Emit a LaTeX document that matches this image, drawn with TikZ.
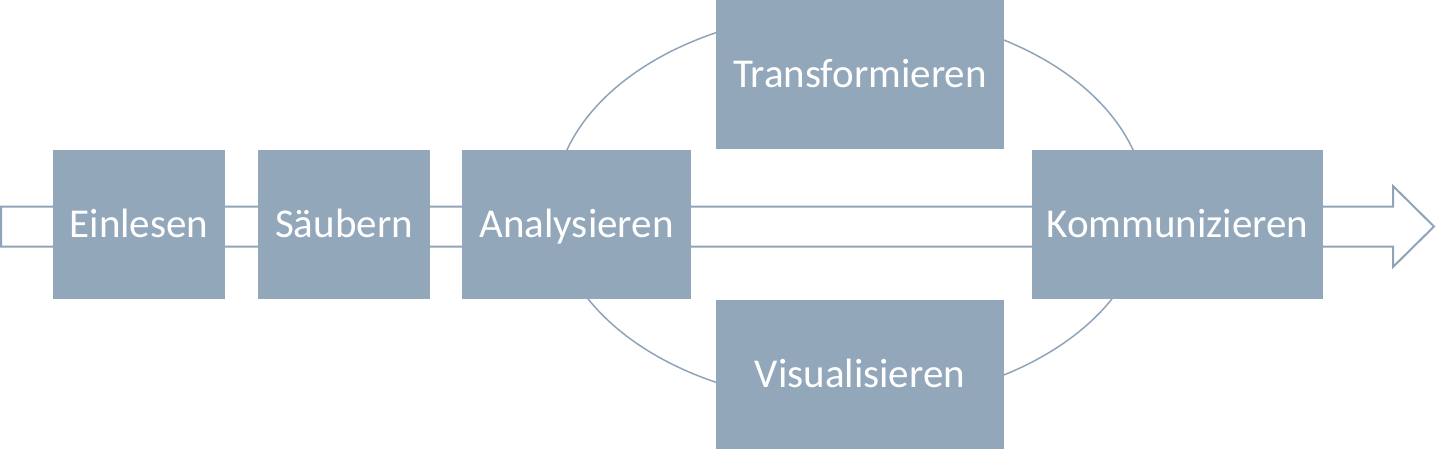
\documentclass[tikz,border=0pt]{standalone}
\usepackage{fontspec}
\setmainfont{Carlito}
\definecolor{boxfill}{HTML}{93A7BB}
\definecolor{lineblue}{HTML}{8FA4B8}
\begin{document}
\begin{tikzpicture}[x=1pt,y=-1pt,
  stepbox/.style={draw=none,fill=boxfill,text=white,inner sep=0pt,
    text height=30pt,text depth=3.6pt,
    font=\fontsize{41}{41}\selectfont},
  ring/.style={draw=lineblue,line width=1.5pt},
  bigarrow/.style={draw=lineblue,line width=2pt,fill=white,line join=miter}]
\useasboundingbox (0,0) rectangle (1436,450);
% big arrow
\draw[bigarrow] (1,206.5) -- (1393,206.5) -- (1393,186) -- (1434,226.5)
  -- (1393,267) -- (1393,246.5) -- (1,246.5) -- cycle;
% ellipse
\draw[ring] (850,207.5) ellipse [x radius=296, y radius=196];
% boxes
\node[stepbox,minimum width=172pt,minimum height=149pt] (ein) at (139,224.5) {Einlesen};
\node[stepbox,minimum width=172pt,minimum height=149pt] (sae) at (344,224.5) {Säubern};
\node[stepbox,minimum width=229pt,minimum height=149pt] (ana) at (576.5,224.5) {Analysieren};
\node[stepbox,minimum width=291pt,minimum height=149pt] (kom) at (1177.5,224.5) {Kommunizieren};
\node[stepbox,minimum width=288pt,minimum height=149pt] (tra) at (860,74.5) {Transformieren};
\node[stepbox,minimum width=288pt,minimum height=149pt] (vis) at (860,374.5) {Visualisieren};
\end{tikzpicture}
\end{document}
